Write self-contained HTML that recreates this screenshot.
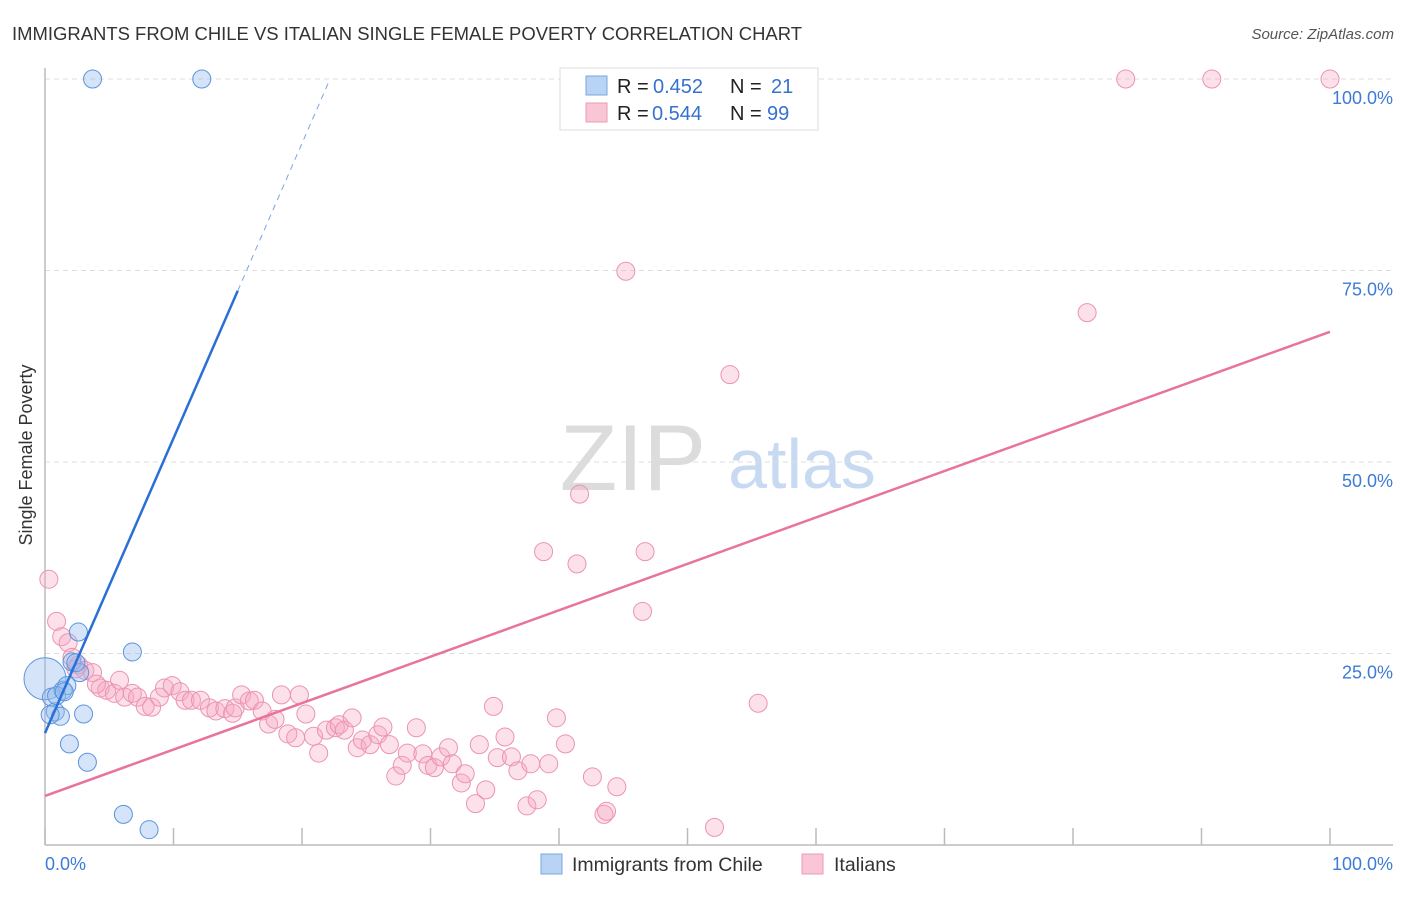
<!DOCTYPE html>
<html><head><meta charset="utf-8">
<style>
body{margin:0;background:#fff;font-family:"Liberation Sans",sans-serif;}
svg text{font-family:"Liberation Sans",sans-serif;}
</style></head>
<body>
<svg id="chart" width="1406" height="892" xmlns="http://www.w3.org/2000/svg">
<text x="12" y="40" font-size="18" fill="#333" textLength="790" lengthAdjust="spacingAndGlyphs">IMMIGRANTS FROM CHILE VS ITALIAN SINGLE FEMALE POVERTY CORRELATION CHART</text>
<text x="1394" y="39" font-size="15" fill="#555" text-anchor="end" font-style="italic">Source: ZipAtlas.com</text>
<g>
<text x="633" y="490" font-size="94" fill="#dcdcdc" font-family="Liberation Serif,serif" text-anchor="middle">ZIP</text>
<text x="802" y="488" font-size="70" fill="#c8daf2" text-anchor="middle">atlas</text>
</g>
<g id="grid"></g>
<g id="axes"></g>
<g id="pts"></g>
<g id="lines"></g>
<text x="32" y="455" font-size="18" fill="#333" text-anchor="middle" transform="rotate(-90 32 455)">Single Female Poverty</text>
<g>
<rect x="560" y="68" width="258" height="62" fill="#fff" stroke="#ddd"/>
<rect x="586" y="76" width="21" height="19" fill="#b9d3f5" stroke="#7aa6e0"/>
<rect x="586" y="103" width="21" height="19" fill="#f9c6d6" stroke="#ec9ab6"/>
<text x="617" y="93" font-size="20" fill="#222">R = <tspan x="653" fill="#3572d0">0.452</tspan></text>
<text x="730" y="93" font-size="20" fill="#222">N = <tspan x="771" fill="#3572d0">21</tspan></text>
<text x="617" y="120" font-size="20" fill="#222">R = <tspan x="652" fill="#3572d0">0.544</tspan></text>
<text x="730" y="120" font-size="20" fill="#222">N = <tspan x="767" fill="#3572d0">99</tspan></text>
</g>
<g>
<rect x="541" y="854" width="21" height="20" fill="#b9d3f5" stroke="#7aa6e0"/>
<text x="572" y="871" font-size="19.5" fill="#333">Immigrants from Chile</text>
<rect x="802" y="854" width="21" height="20" fill="#f9c6d6" stroke="#ec9ab6"/>
<text x="834" y="871" font-size="19.5" fill="#333">Italians</text>
</g>
</svg>
<script>
const yTicks=[25,50,75,100];
const yTickLabels=["25.0%","50.0%","75.0%","100.0%"];
const xTicks=[0,10,20,30,40,50,60,70,80,90,100];
const chileX=[0,0.5,0.8,1.2,1.4,1.7,2.1,2.6,2.7,3.0,1.9,3.3,6.8,6.1,8.1,3.7,12.2,0.4,0.9,1.5,2.4];
const chileY=[21.7,19.3,17.4,16.8,20.2,20.8,23.9,27.8,22.5,17.1,13.2,10.8,25.2,4.0,2.0,100,100,17.0,19.5,20.0,23.8];
const italX=[0.3,0.9,1.3,1.8,2.1,2.6,3.1,3.7,4.3,4.8,5.4,5.8,6.2,6.8,7.2,7.8,8.3,8.9,9.3,9.9,10.5,10.9,11.4,12.1,12.8,13.3,14.0,14.6,14.8,15.3,15.9,16.3,16.9,17.4,17.9,18.4,18.9,19.5,19.8,20.3,20.9,21.3,21.9,22.6,22.9,23.3,23.9,24.3,24.7,25.3,25.9,26.3,26.8,27.3,27.8,28.2,28.9,29.4,29.8,30.3,30.8,31.4,31.7,32.4,32.7,33.5,33.8,34.3,34.9,35.2,35.8,36.3,36.8,37.5,37.8,38.3,39.2,39.8,40.5,42.6,43.5,43.7,44.5,46.5,46.7,49.6,52.1,55.5,53.3,45.2,41.6,41.4,38.8,81.1,84.1,90.8,100,2.4,4.0];
const italY=[34.7,29.2,27.2,26.4,24.5,23.5,22.8,22.5,20.5,20.2,19.8,21.5,19.3,19.8,19.3,18.1,18.0,19.3,20.5,20.8,20.0,18.9,18.9,18.9,17.9,17.5,17.8,17.2,17.9,19.6,18.8,18.9,17.5,15.8,16.4,19.6,14.5,14.0,19.6,17.1,14.2,12.0,15.0,15.3,15.7,15.0,16.6,12.7,13.7,13.1,14.4,15.4,13.1,9.0,10.4,12.0,15.3,11.9,10.4,10.1,11.5,12.7,10.6,8.1,9.3,5.4,13.1,7.2,18.1,11.4,14.1,11.5,9.7,5.1,10.6,5.9,10.6,16.6,13.2,8.9,4.0,4.4,7.6,30.5,38.3,100,2.3,18.5,61.4,74.9,45.8,36.7,38.3,69.5,100,100,100,23.0,21.0];
const chileTrend=[14.6,3.85];
const italTrend=[6.4,0.606];
const X=v=>45+v*12.85, Y=v=>845-v*7.66;
const NS="http://www.w3.org/2000/svg";
function mk(tag,attrs,parent){const e=document.createElementNS(NS,tag);for(const k in attrs)e.setAttribute(k,attrs[k]);parent.appendChild(e);return e;}
const grid=document.getElementById('grid'),axes=document.getElementById('axes'),pts=document.getElementById('pts'),lines=document.getElementById('lines');
yTicks.forEach((t,i)=>{
  const l=mk('line',{x1:45,x2:1393,y1:Y(t),y2:Y(t),stroke:'#ddd','stroke-dasharray':'5,4'},grid);
  
  
  const tx=mk('text',{x:1393,y:Y(t)+25,'font-size':18,fill:'#3d7bd6','text-anchor':'end'},axes);
  tx.textContent=yTickLabels[i];
  
  
});
mk('line',{x1:45,x2:45,y1:68,y2:845,stroke:'#bbb','stroke-width':1.5},axes);
mk('line',{x1:45,x2:1393,y1:845,y2:845,stroke:'#bbb','stroke-width':1.5},axes);
xTicks.forEach(t=>{
  const l=mk('line',{x1:X(t),x2:X(t),y1:828,y2:845,stroke:'#bbb','stroke-width':1.5},axes);
  
  
});
const xl=mk('text',{x:45,y:870,'font-size':18,fill:'#3d7bd6'},axes);xl.textContent='0.0%';


const xr=mk('text',{x:1393,y:870,'font-size':18,fill:'#3d7bd6','text-anchor':'end'},axes);xr.textContent='100.0%';


italX.forEach((x,i)=>{
  const c=mk('circle',{cx:X(x),cy:Y(italY[i]),r:9,fill:'rgba(246,170,196,0.35)',stroke:'#ec93b2','stroke-width':1},pts);
  
  
});
chileX.forEach((x,i)=>{
  const c=mk('circle',{cx:X(x),cy:Y(chileY[i]),r:(i===0?21:9),fill:'rgba(150,188,238,0.4)',stroke:'#5b95dd','stroke-width':1},pts);
  
  
});
const it=mk('line',{x1:X(0),y1:Y(italTrend[0]),x2:X(100),y2:Y(italTrend[0]+italTrend[1]*100),stroke:'#e8739b','stroke-width':2.5},lines);


const cs=mk('line',{x1:X(0),y1:Y(chileTrend[0]),x2:X(15),y2:Y(chileTrend[0]+chileTrend[1]*15),stroke:'#2a6fd6','stroke-width':2.5},lines);


const xe=(100-chileTrend[0])/chileTrend[1];
const cd=mk('line',{x1:X(15),y1:Y(chileTrend[0]+chileTrend[1]*15),x2:X(xe),y2:Y(100),stroke:'#7aa6e0','stroke-width':1,'stroke-dasharray':'6,5'},lines);


</script>
</body></html>
